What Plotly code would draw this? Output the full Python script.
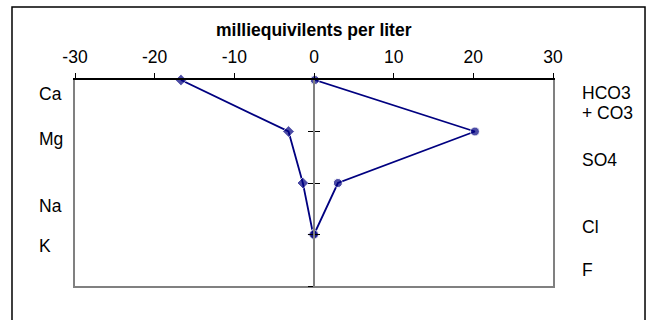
import plotly.graph_objects as go

# Stiff diagram: cations plotted to the left (negative), anions to the right
cation_names = ["Ca", "Mg", "Na", "K"]
cation_meq = [-16.7, -3.2, -1.4, -0.1]
anion_names = ["HCO3", "SO4", "Cl", "F"]
anion_meq = [0.1, 20.2, 3.0, 0.0]
rows = [0, 1, 2, 3]

# caption rows for the side labels (bicarbonate label carries a second line)
cation_label_rows = [0.27, 1.15, 2.45, 3.22]
anion_label_rows = [0.25, 1.55, 2.85, 3.69]
carbonate_label = "+ CO3"
carbonate_label_row = 0.65

x_ticks = [-30, -20, -10, 0, 10, 20, 30]
x_tick_text = ["-30", "-20", "-10", "0", "10", "20", "30"]

NAVY = "#000080"
FONT = "Liberation Sans, Arial, sans-serif"
FS = 17.5

# polygon path: down the cation side, back up the anion side
path_x = cation_meq + anion_meq[::-1]
path_y = rows + rows[::-1]
symbols = ["diamond"] * len(cation_meq) + ["circle"] * len(anion_meq)
sizes = [9] * len(cation_meq) + [9] * len(anion_meq)

fig = go.Figure()
fig.add_trace(go.Scatter(
    x=path_x, y=path_y, mode="lines+markers",
    line=dict(color=NAVY, width=1.8),
    marker=dict(color=NAVY, symbol=symbols, size=sizes),
    showlegend=False, hoverinfo="skip", cliponaxis=False,
    xaxis="x", yaxis="y",
))

# invisible traces so the auxiliary axes get drawn
fig.add_trace(go.Scatter(x=[0], y=[0], mode="markers", marker=dict(opacity=0),
                         xaxis="x2", yaxis="y", showlegend=False, hoverinfo="skip"))
fig.add_trace(go.Scatter(x=[0], y=[0], mode="markers", marker=dict(opacity=0),
                         xaxis="x", yaxis="y3", showlegend=False, hoverinfo="skip"))
fig.add_trace(go.Scatter(x=[0], y=[0], mode="markers", marker=dict(opacity=0),
                         xaxis="x", yaxis="y4", showlegend=False, hoverinfo="skip"))

fig.update_layout(
    width=647, height=320,
    margin=dict(l=75, r=94, t=80, b=34),
    paper_bgcolor="white", plot_bgcolor="white",
    font=dict(family=FONT, size=FS, color="black"),
    xaxis=dict(
        side="top", range=[-30, 30], tickvals=x_ticks, ticktext=x_tick_text,
        ticks="outside", ticklen=5, tickcolor="black", tickwidth=1,
        showline=True, linecolor="black", linewidth=1.5,
        showgrid=False, zeroline=False, ticklabelstandoff=3,
        tickfont=dict(size=FS),
    ),
    xaxis2=dict(
        overlaying="x", side="bottom", range=[-30, 30],
        showline=True, linecolor="#808080", linewidth=1.5,
        showticklabels=False, ticks="", showgrid=False, zeroline=False,
    ),
    yaxis=dict(
        range=[4, 0], showticklabels=False, ticks="",
        showline=True, linecolor="#808080", linewidth=1.5, mirror=True,
        showgrid=False, zeroline=False,
    ),
    # centre axis at x = 0 with cross ticks
    yaxis3=dict(
        overlaying="y", anchor="free", position=0.5, side="left",
        range=[4, 0], tickvals=[1, 2, 3, 4], showticklabels=False,
        ticks="outside", ticklen=5, tickcolor="black", tickwidth=1,
        showline=True, linecolor="#808080", linewidth=2,
        showgrid=False, zeroline=False,
    ),
    yaxis4=dict(
        overlaying="y", anchor="free", position=0.5, side="left",
        range=[4, 0], tickvals=[1, 2, 3, 4], showticklabels=False,
        ticks="inside", ticklen=5, tickcolor="black", tickwidth=1,
        showline=False, showgrid=False, zeroline=False,
    ),
)

# axis title above the tick labels
fig.add_annotation(
    text="<b>milliequivilents per liter</b>", xref="x", x=0,
    yref="paper", y=1.245, yanchor="middle", showarrow=False,
    font=dict(size=FS),
)

for name, r in zip(cation_names, cation_label_rows):
    fig.add_annotation(text=name, xref="paper", x=-0.0795, xanchor="left",
                       yref="y", y=r, yanchor="middle", showarrow=False,
                       align="left", font=dict(size=FS))
for name, r in zip(anion_names + [carbonate_label],
                   anion_label_rows + [carbonate_label_row]):
    fig.add_annotation(text=name, xref="paper", x=1.0565, xanchor="left",
                       yref="y", y=r, yanchor="middle", showarrow=False,
                       align="left", font=dict(size=FS))

# chart frame
fig.add_shape(type="rect", xref="paper", yref="paper",
              x0=-0.1318, x1=1.1925, y0=-0.2, y1=1.354,
              line=dict(color="black", width=1.5), layer="below")

fig.write_html("out.html")
